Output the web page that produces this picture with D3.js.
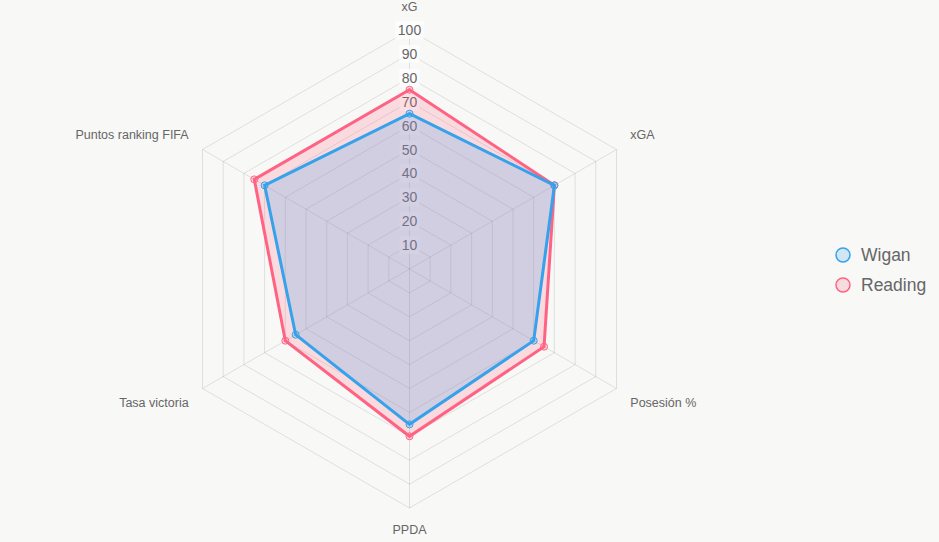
<!DOCTYPE html>
<html>
<head>
<meta charset="utf-8">
<script src="https://cdn.jsdelivr.net/npm/d3@7"></script>
<style>
  body { margin: 0; background: #f8f8f7; }
  svg { display: block; font-family: "Liberation Sans", Arial, sans-serif; }
</style>
</head>
<body>
<div id="chart"></div>
<script>
let w = 939;
let h = 542;

// data
let axes = ["xG", "xGA", "Posesión %", "PPDA", "Tasa victoria", "Puntos ranking FIFA"];
let wigan = [65, 70, 60, 65, 55, 70];
let reading = [75, 70, 65, 70, 60, 75];
let ticks = [10, 20, 30, 40, 50, 60, 70, 80, 90, 100];
let teams = ["Wigan", "Reading"];
let lineColors = ["rgb(54,162,235)", "rgb(255,99,132)"];
let fillColors = ["rgba(54,162,235,0.2)", "rgba(255,99,132,0.2)"];

let cx = 409.5;
let cy = 269;
let R = 239;

let svg = d3.select("#chart")
  .append("svg")
  .attr("width", w)
  .attr("height", h);

svg.append("rect")
  .attr("width", w)
  .attr("height", h)
  .attr("fill", "#f8f8f7");

let r = d3.scaleLinear().domain([0, 100]).range([0, R]);
let angle = d3.scaleLinear().domain([0, axes.length]).range([0, 2 * Math.PI]);

function px(i, v) { return cx + r(v) * Math.sin(angle(i)); }
function py(i, v) { return cy - r(v) * Math.cos(angle(i)); }

let g = svg.append("g");

// grid hexagons
g.selectAll(".grid")
  .data(ticks)
  .enter()
  .append("polygon")
  .attr("points", t => axes.map((a, i) => px(i, t) + "," + py(i, t)).join(" "))
  .attr("fill", "none")
  .attr("stroke", "rgba(0,0,0,0.1)")
  .attr("stroke-width", 1);

// angle lines
g.selectAll(".spoke")
  .data(axes)
  .enter()
  .append("line")
  .attr("x1", cx)
  .attr("y1", cy)
  .attr("x2", (a, i) => px(i, 100))
  .attr("y2", (a, i) => py(i, 100))
  .attr("stroke", "rgba(0,0,0,0.1)")
  .attr("stroke-width", 1);

// point labels
let labelR = 255;
g.selectAll(".plabel")
  .data(axes)
  .enter()
  .append("text")
  .text(d => d)
  .attr("x", (a, i) => cx + labelR * Math.sin(angle(i)))
  .attr("y", (a, i) => {
    let yy = cy - labelR * Math.cos(angle(i));
    return Math.cos(angle(i)) > 0.01 ? yy - 3 : yy + 10;
  })
  .attr("text-anchor", (a, i) => {
    let s = Math.sin(angle(i));
    return Math.abs(s) < 0.01 ? "middle" : (s > 0 ? "start" : "end");
  })
  .attr("font-size", 12.5)
  .attr("fill", "#666");

// tick labels with backdrop (under the datasets)
let tg = g.selectAll(".tick")
  .data(ticks)
  .enter()
  .append("g")
  .attr("transform", t => "translate(" + cx + "," + (cy - r(t)) + ")");
tg.append("rect")
  .attr("x", t => -String(t).length * 4 - 2)
  .attr("y", -9)
  .attr("width", t => String(t).length * 8 + 4)
  .attr("height", 18)
  .attr("fill", "rgba(255,255,255,0.75)");
tg.append("text")
  .text(t => t)
  .attr("text-anchor", "middle")
  .attr("y", 5)
  .attr("font-size", 14)
  .attr("fill", "#666");

// datasets (draw last first so first is on top)
let series = [wigan, reading];
let line = d3.lineRadial()
  .angle((d, i) => angle(i))
  .radius(d => r(d))
  .curve(d3.curveLinearClosed);

for (let k = series.length - 1; k >= 0; k--) {
  let sg = g.append("g").attr("transform", "translate(" + cx + "," + cy + ")");
  sg.append("path")
    .attr("d", line(series[k]))
    .attr("fill", fillColors[k])
    .attr("stroke", lineColors[k])
    .attr("stroke-width", 3)
    .attr("stroke-linejoin", "miter");
  sg.selectAll("circle")
    .data(series[k])
    .enter()
    .append("circle")
    .attr("cx", (d, i) => r(d) * Math.sin(angle(i)))
    .attr("cy", (d, i) => -r(d) * Math.cos(angle(i)))
    .attr("r", 3.5)
    .attr("fill", fillColors[k])
    .attr("stroke", lineColors[k])
    .attr("stroke-width", 1);
}

// legend
let lg = svg.selectAll(".legend")
  .data(teams)
  .enter()
  .append("g")
  .attr("transform", (d, i) => "translate(843," + (255 + i * 30) + ")");
lg.append("circle")
  .attr("r", 7)
  .attr("fill", (d, i) => fillColors[i])
  .attr("stroke", (d, i) => lineColors[i])
  .attr("stroke-width", 1.5);
lg.append("text")
  .text(d => d)
  .attr("x", 18)
  .attr("y", 6)
  .attr("font-size", 17.5)
  .attr("fill", "#666");
</script>
</body>
</html>
